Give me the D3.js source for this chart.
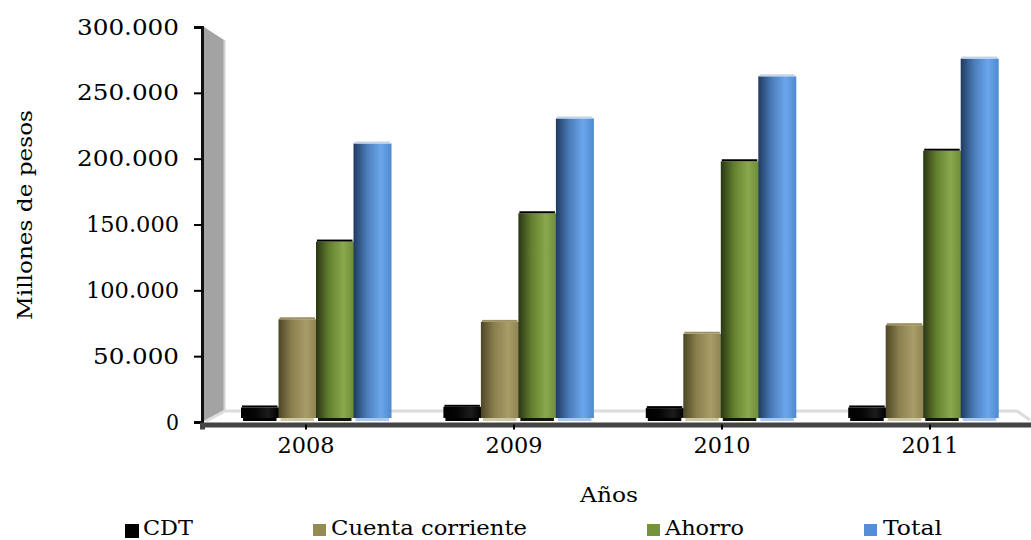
<!DOCTYPE html>
<html>
<head>
<meta charset="utf-8">
<script src="https://cdn.jsdelivr.net/npm/d3@7"></script>
<style>
  html, body { margin: 0; background: #fff; }
  svg { display: block; }
  text { font-family: "DejaVu Serif", serif; fill: #000; }
</style>
</head>
<body>
<svg id="chart" width="1031" height="540"></svg>
<script>
const years = ["2008", "2009", "2010", "2011"];
const seriesNames = ["CDT", "Cuenta corriente", "Ahorro", "Total"];
const cdt = [8000, 8500, 7500, 8000];
const cuenta = [75000, 73000, 64000, 70500];
const ahorro = [134000, 155500, 195000, 203000];
const total = [208500, 227500, 259500, 273000];
const yTicks = [0, 50000, 100000, 150000, 200000, 250000, 300000];

const seriesValues = [cdt, cuenta, ahorro, total];
const seriesColors = [
  ["#000000", "#050505", "#1c1c1c", "#000000"],
  ["#4d4627", "#8a7f4e", "#a89c68", "#8f8452"],
  ["#2a3614", "#64802f", "#8aa84c", "#6f8c38"],
  ["#1f3a60", "#4a7cb8", "#6ba6ec", "#4f8ad0"],
];
const topColors = ["#000000", "#9c9162", "#000000", "#c3d3e8"];
const baseColors = ["#000000", "#cfc8a4", "#10140a", "#a9c8f0"];
const legendFill = ["#000000", "#948a54", "#76923c", "#558ed5"];
const legendX = [125, 313, 647, 864];
const legendText = [143, 331, 665, 883];
const legendWidth = [50, 196, 79, 59];

const svg = d3.select("#chart");
const fmt = d3.formatLocale({ decimal: ",", thousands: ".", grouping: [3], currency: ["$", ""] }).format(",d");

const y = d3.scaleLinear().domain([0, 300000]).range([422, 27]);
const x = d3.scaleBand().domain(years).range([202, 1034]);
// bars sit on the back of the 3D floor so they step a bit tighter than the axis
const xBack = d3.scaleBand().domain(years).range([241, 1050.6]);
const xSeries = d3.scaleBand().domain(seriesNames).range([0, 150]);

const defs = svg.append("defs");
seriesColors.forEach((stops, i) => {
  const grad = defs.append("linearGradient").attr("id", `bar${i}`);
  [0, 0.35, 0.72, 1].forEach((o, j) => {
    grad.append("stop").attr("offset", o).attr("stop-color", stops[j]);
  });
});

// wall and floor
svg.append("path")
  .attr("d", `M204,${y(300000)}L224,${y(300000) + 13}V${y(0) - 11}L204,${y(0) - 1}Z`)
  .attr("fill", "#a3a3a3");
svg.append("path")
  .attr("d", `M224.5,${y(300000) + 13}V${y(0) - 11}`)
  .attr("stroke", "#d2d2d2").attr("stroke-width", 2).attr("fill", "none");
svg.append("path")
  .attr("d", `M206,${y(0) - 1}L225,${y(0) - 11}H1017L1030,${y(0) - 2}`)
  .attr("stroke", "#dcdcdc").attr("stroke-width", 3).attr("fill", "none");

// bars
const floorY = y(0) - 4;
seriesNames.forEach((name, i) => {
  const g = svg.append("g");
  const left = (j) => xBack(years[j]) + xSeries(name);
  g.selectAll("rect.base")
    .data(seriesValues[i])
    .enter()
    .append("rect")
    .attr("class", "base")
    .attr("x", (d, j) => left(j) + 2)
    .attr("width", xSeries.bandwidth() - 4)
    .attr("y", floorY - 1)
    .attr("height", 4)
    .attr("fill", baseColors[i]);
  g.selectAll("rect.bar")
    .data(seriesValues[i])
    .enter()
    .append("rect")
    .attr("class", "bar")
    .attr("x", (d, j) => left(j))
    .attr("width", xSeries.bandwidth() + 0.5)
    .attr("y", (d) => floorY - (y(0) - y(d)))
    .attr("height", (d) => y(0) - y(d))
    .attr("fill", `url(#bar${i})`);
  g.selectAll("rect.cap")
    .data(seriesValues[i])
    .enter()
    .append("rect")
    .attr("class", "cap")
    .attr("x", (d, j) => left(j) + 1)
    .attr("width", xSeries.bandwidth() - 2)
    .attr("y", (d) => floorY - (y(0) - y(d)) - 2)
    .attr("height", 2)
    .attr("fill", topColors[i]);
});

// tick labels are wider than DejaVu for some digits, a "1" is narrow in the original font
const labelWidth = (d) => {
  const s = fmt(d);
  if (d === 0) return 13;
  return [...s].reduce((w, c) => w + (c === "." ? 6 : c === "1" ? 7 : 16), 0);
};

// axes
const yAxis = svg.append("g")
  .attr("transform", "translate(202,0)")
  .call(d3.axisLeft(y).tickValues(yTicks).tickFormat((d) => fmt(d)).tickSize(8).tickPadding(15));
yAxis.select(".domain").attr("stroke", "#111").attr("stroke-width", 3);
yAxis.selectAll(".tick line").attr("stroke", "#000").attr("stroke-width", 2);
yAxis.selectAll("text")
  .attr("font-size", 22).attr("font-family", "DejaVu Serif")
  .attr("textLength", labelWidth)
  .attr("lengthAdjust", "spacingAndGlyphs");

const xAxis = svg.append("g")
  .attr("transform", "translate(0,424.5)")
  .call(d3.axisBottom(x).tickSize(5).tickPadding(8).tickSizeOuter(5));
xAxis.select(".domain").attr("stroke", "#444").attr("stroke-width", 5);
xAxis.selectAll(".tick line").attr("stroke", "#000").attr("stroke-width", 2);
xAxis.selectAll("text")
  .attr("font-size", 21.5).attr("font-family", "DejaVu Serif")
  .attr("textLength", 57).attr("lengthAdjust", "spacingAndGlyphs");

// axis titles
svg.append("text")
  .attr("x", 609).attr("y", 502)
  .attr("text-anchor", "middle")
  .attr("font-size", 20)
  .attr("textLength", 58).attr("lengthAdjust", "spacingAndGlyphs")
  .text("Años");
svg.append("text")
  .attr("transform", "translate(32,215) rotate(-90)")
  .attr("text-anchor", "middle")
  .attr("font-size", 20)
  .attr("textLength", 210).attr("lengthAdjust", "spacingAndGlyphs")
  .text("Millones de pesos");

// legend
seriesNames.forEach((name, i) => {
  svg.append("rect")
    .attr("x", legendX[i]).attr("y", 524)
    .attr("width", i === 0 ? 14 : 13).attr("height", i === 0 ? 14 : 12)
    .attr("fill", legendFill[i]);
  svg.append("text")
    .attr("x", legendText[i]).attr("y", 535)
    .attr("font-size", 21)
    .attr("textLength", legendWidth[i]).attr("lengthAdjust", "spacingAndGlyphs")
    .text(name);
});
</script>
</body>
</html>
